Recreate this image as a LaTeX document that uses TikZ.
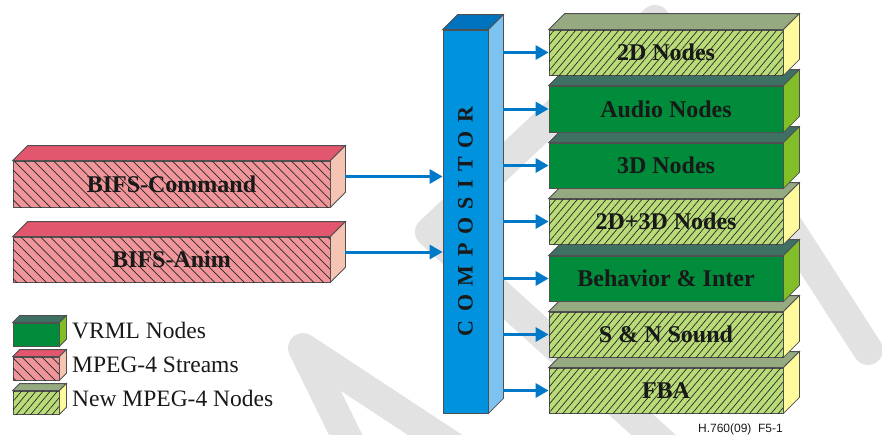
\documentclass[tikz,border=0pt]{standalone}
\usepackage{fontspec}
\setmainfont{Liberation Serif}
\newfontfamily\arialf{Liberation Sans}
\usetikzlibrary{calc,arrows.meta,patterns.meta}
\definecolor{edgec}{RGB}{80,80,80}
\definecolor{hatch}{RGB}{40,40,40}
\definecolor{txt}{RGB}{25,25,25}
\definecolor{pinkF}{RGB}{240,150,155}
\definecolor{pinkT}{RGB}{226,86,110}
\definecolor{pinkS}{RGB}{245,196,178}
\definecolor{vrmlF}{RGB}{0,140,58}
\definecolor{vrmlT}{RGB}{62,112,100}
\definecolor{vrmlS}{RGB}{130,190,40}
\definecolor{newF}{RGB}{185,220,120}
\definecolor{newT}{RGB}{150,170,130}
\definecolor{newS}{RGB}{255,250,155}
\definecolor{compF}{RGB}{0,146,221}
\definecolor{compT}{RGB}{0,115,190}
\definecolor{compS}{RGB}{125,195,240}
\definecolor{arrc}{RGB}{0,120,200}
\definecolor{wmark}{RGB}{226,226,226}
\newcommand\cub[7]{%
  \node[#2front, minimum width=#4, minimum height=#5, inner sep=0pt, lbl] (#1) at (#3) {#7};
  \draw[edge, fill=#2T] (#1.north west) -- ++(#6,-#6) -- ($(#1.north east)+(#6,-#6)$) -- (#1.north east) -- cycle;
  \draw[edge, fill=#2S] (#1.north east) -- ++(#6,-#6) -- ($(#1.south east)+(#6,-#6)$) -- (#1.south east) -- cycle;
}
\begin{document}
\begin{tikzpicture}[x=1pt,y=-1pt,
  edge/.style={draw=edgec, line width=0.8pt},
  lbl/.style={font=\fontsize{24}{27}\selectfont\bfseries, text=txt},
  pinkfront/.style={edge, fill=pinkF, postaction={pattern={Lines[angle=-45,distance=7pt,line width=0.7pt]}, pattern color=hatch}},
  newfront/.style={edge, fill=newF, postaction={pattern={Lines[angle=50,distance=5.5pt,line width=0.7pt]}, pattern color=hatch}},
  vrmlfront/.style={edge, fill=vrmlF},
  compfront/.style={edge, fill=compF},
  arr/.style={draw=arrc, line width=3pt, -{Triangle[length=13pt,width=14pt]}},
  legtxt/.style={font=\fontsize{23.5}{26}\selectfont, text=txt, anchor=base west, inner sep=0pt},
  wm/.style={draw=wmark, line width=30pt, line cap=round, line join=round},
]
\useasboundingbox (0,0) rectangle (882,434);
% watermark
\begin{scope}
  \clip (0,0) rectangle (882,434);
  \draw[wm] (358,460) -- (303,348) -- (470,458);
  \draw[wm] (681,460) -- (430,232) -- (655,20) -- (868,350);
\end{scope}
% left stream boxes
\cub{bc}{pink}{171.5,184}{317pt}{46pt}{15}{BIFS-Command}
\cub{ba}{pink}{171.5,259.5}{317pt}{45pt}{15}{BIFS-Anim}
% compositor
\cub{comp}{comp}{465.5,221.5}{45pt}{383pt}{15}{}
\node[rotate=90, font=\fontsize{22}{24}\selectfont\bfseries, text=txt, inner sep=0pt] (complbl) at (comp.center)
  {C\hspace{8.5pt}O\hspace{8.5pt}M\hspace{8.5pt}P\hspace{8.5pt}O\hspace{8.5pt}S\hspace{8.5pt}I\hspace{8.5pt}T\hspace{8.5pt}O\hspace{8.5pt}R};
% right node boxes (bottom to top)
\cub{b7}{new}{666,390.5}{234pt}{45pt}{16}{FBA}
\cub{b6}{new}{666,334.5}{234pt}{45pt}{16}{S \& N Sound}
\cub{b5}{vrml}{666,278.5}{234pt}{45pt}{16}{Behavior \& Inter}
\cub{b4}{new}{666,221.5}{234pt}{45pt}{16}{2D+3D Nodes}
\cub{b3}{vrml}{666,165.5}{234pt}{45pt}{16}{3D Nodes}
\cub{b2}{vrml}{666,109}{234pt}{46pt}{16}{Audio Nodes}
\cub{b1}{new}{666,52.5}{234pt}{45pt}{16}{2D Nodes}
% arrows
\coordinate (bcR) at ([xshift=15pt,yshift=7.5pt]bc.east);
\coordinate (baR) at ([xshift=15pt,yshift=7.5pt]ba.east);
\draw[arr] (bcR) -- (bcR -| comp.west);
\draw[arr] (baR) -- (baR -| comp.west);
\coordinate (compR) at ([xshift=15pt]comp.east);
\foreach \b in {b1,b2,b3,b4,b5,b6,b7}{
  \draw[arr] (compR |- \b.west) -- (\b.west);
}
% legend
\cub{lv}{vrml}{36,334.5}{46pt}{23pt}{7}{}
\cub{lp}{pink}{36,368.5}{46pt}{23pt}{7}{}
\cub{ln}{new}{36,402.5}{46pt}{23pt}{7}{}
\node[legtxt] (lvt) at (72,338) {VRML Nodes};
\node[legtxt] (lpt) at (72,372) {MPEG-4 Streams};
\node[legtxt] (lnt) at (72,406) {New MPEG-4 Nodes};
% figure id
\node[font=\arialf\fontsize{12}{14}\selectfont, text=txt, anchor=base east, inner sep=0pt] (figid) at (783,432) {H.760(09)\ \ F5-1};
\end{tikzpicture}
\end{document}
